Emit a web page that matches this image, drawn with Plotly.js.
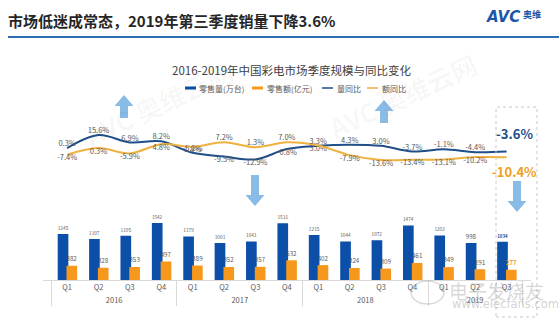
<!DOCTYPE html>
<html>
<head>
<meta charset="utf-8">
<script src="https://cdn.plot.ly/plotly-3.0.1.min.js"></script>
<style>html,body{margin:0;padding:0;background:#fff;}#chart{width:559px;height:323px;}</style>
</head>
<body>
<div id="chart"></div>
<script>
// ---- data ----
const years    = ['2016','2016','2016','2016','2017','2017','2017','2017','2018','2018','2018','2018','2019','2019','2019'];
const quarters = ['Q1','Q2','Q3','Q4','Q1','Q2','Q3','Q4','Q1','Q2','Q3','Q4','Q1','Q2','Q3'];
const volume   = [1245,1107,1195,1542,1179,1001,1041,1531,1215,1044,1072,1474,1202,998,1034];
const value    = [382,328,353,497,389,352,357,532,402,324,309,461,349,291,277];
const volYoY   = [0.3,15.6,6.9,8.2,-5.2,-9.5,-12.9,-0.8,3.0,4.3,3.0,-3.7,-1.1,-4.4,-3.6];
const valYoY   = [-7.4,0.3,-5.9,4.8,1.8,7.2,1.3,7.0,3.3,-7.9,-13.6,-13.4,-13.1,-10.2,-10.4];
const seriesNames = ['零售量(万台)','零售额(亿元)','量同比','额同比'];
const volLabelPos = ['top center','top center','top center','top center','top center','bottom center','bottom center','bottom center','bottom center','top center','top center','top center','top center','top center','top center'];
const valLabelPos = ['bottom center','bottom center','bottom center','bottom center','bottom center','top center','top center','top center','top center','bottom center','bottom center','bottom center','bottom center','bottom center','bottom center'];
const mainTitle = '市场低迷成常态，2019年第三季度销量下降3.6%';
const chartTitle = '2016-2019年中国彩电市场季度规模与同比变化';

// ---- styling ----
const W = 559, H = 323;
const px = x => x / W, py = y => 1 - y / H;
const FONT = 'Noto Sans CJK SC, Noto Sans, sans-serif';
const BAR_BLUE = '#0b4fa8', BAR_ORANGE = '#f5981c';
const LINE_BLUE = '#1f4e89', LINE_ORANGE = '#efb13f';
const TXT = '#595959';
const n = quarters.length;
const last = n - 1;
const xDom = [42.7 / W, 531 / W];
const xCenter = i => xDom[0] + (i + 0.5) / n * (xDom[1] - xDom[0]);
const xcat = [years, quarters];

const barText = (arr, bigColor, bigSize) => ({
  tt: arr.map((v, i) => i === last ? '<b>%{y}</b>' : '%{y}'),
  size: arr.map((v, i) => i === last ? bigSize : 8),
  color: arr.map((v, i) => i === last ? bigColor : TXT)
});
const bt1 = barText(volume, LINE_BLUE, 11);
const bt2 = barText(value, '#f0a020', 10);

const traces = [
  {type: 'bar', name: seriesNames[0], x: xcat, y: volume, xaxis: 'x', yaxis: 'y',
   marker: {color: BAR_BLUE}, width: 0.34, offset: -0.3,
   texttemplate: bt1.tt, textposition: 'outside', cliponaxis: false,
   textfont: {size: bt1.size, color: bt1.color, family: FONT}, showlegend: false, hoverinfo: 'y'},
  {type: 'bar', name: seriesNames[1], x: xcat, y: value, xaxis: 'x', yaxis: 'y',
   marker: {color: BAR_ORANGE}, width: 0.34, offset: -0.02,
   texttemplate: bt2.tt, textposition: 'outside', cliponaxis: false,
   textfont: {size: bt2.size, color: bt2.color, family: FONT}, showlegend: false, hoverinfo: 'y'},
  {type: 'scatter', mode: 'lines+text', name: seriesNames[2], x: xcat, y: volYoY, xaxis: 'x', yaxis: 'y2',
   line: {color: LINE_BLUE, width: 2, shape: 'spline', smoothing: 1},
   texttemplate: volYoY.map((v, i) => i === last ? '' : '%{y:.1f}%'), textposition: volLabelPos,
   textfont: {size: 7.5, color: TXT, family: FONT}, cliponaxis: false, showlegend: false},
  {type: 'scatter', mode: 'lines+text', name: seriesNames[3], x: xcat, y: valYoY, xaxis: 'x', yaxis: 'y2',
   line: {color: LINE_ORANGE, width: 2, shape: 'spline', smoothing: 1},
   texttemplate: valYoY.map((v, i) => i === last ? '' : '%{y:.1f}%'), textposition: valLabelPos,
   textfont: {size: 7.5, color: TXT, family: FONT}, cliponaxis: false, showlegend: false}
];

// arrows
const ARROW = '#88bbe6';
function arrowPath(cx, y0, y1, up) {
  const hw = 9.5, sw = 4, hh = 11 * (up ? 1 : -1);
  const tip = up ? y0 : y1, base = up ? y1 : y0;
  const pts = [[cx, tip], [cx + hw, tip + hh], [cx + sw, tip + hh], [cx + sw, base], [cx - sw, base], [cx - sw, tip + hh], [cx - hw, tip + hh]];
  return 'M' + pts.map(p => px(p[0]).toFixed(5) + ',' + py(p[1]).toFixed(5)).join(' L') + ' Z';
}
const LEG_Y = 88;
const shapes = [
  {type: 'line', xref: 'paper', yref: 'paper', x0: px(8), x1: 1, y0: py(37), y1: py(37), line: {color: '#2f6eb5', width: 2}},
  {type: 'path', xref: 'paper', yref: 'paper', path: arrowPath(124, 95, 118, true), fillcolor: ARROW, line: {width: 0}},
  {type: 'path', xref: 'paper', yref: 'paper', path: arrowPath(384, 100, 123, true), fillcolor: ARROW, line: {width: 0}},
  {type: 'path', xref: 'paper', yref: 'paper', path: arrowPath(255, 175, 206, false), fillcolor: ARROW, line: {width: 0}},
  {type: 'path', xref: 'paper', yref: 'paper', path: arrowPath(517, 181, 212, false), fillcolor: ARROW, line: {width: 0}},
  {type: 'rect', xref: 'paper', yref: 'paper', x0: px(496), x1: px(537), y0: py(317), y1: py(107), line: {color: '#c8c8c8', width: 1, dash: 'dot'}},
  // legend icons
  {type: 'line', xref: 'paper', yref: 'paper', x0: px(185), x1: px(196), y0: py(LEG_Y), y1: py(LEG_Y), line: {color: BAR_BLUE, width: 3}},
  {type: 'line', xref: 'paper', yref: 'paper', x0: px(252), x1: px(263), y0: py(LEG_Y), y1: py(LEG_Y), line: {color: BAR_ORANGE, width: 3}},
  {type: 'line', xref: 'paper', yref: 'paper', x0: px(322), x1: px(333), y0: py(LEG_Y), y1: py(LEG_Y), line: {color: LINE_BLUE, width: 1.5}},
  {type: 'line', xref: 'paper', yref: 'paper', x0: px(367), x1: px(378), y0: py(LEG_Y), y1: py(LEG_Y), line: {color: LINE_ORANGE, width: 1.5}},
  // elecfans logo circle (watermark)
  {type: 'circle', xref: 'paper', yref: 'paper', x0: px(411), x1: px(444), y0: py(304), y1: py(281), line: {color: 'rgba(150,150,150,0.35)', width: 1.5}}
];

const fmtPct = v => v.toFixed(1) + '%';
const legendX = [197, 265, 335, 380];
const ann = (o) => Object.assign({xref: 'paper', yref: 'paper', showarrow: false, xanchor: 'center', yanchor: 'middle'}, o);
const annotations = [
  ann({x: px(292), y: py(70), text: chartTitle, font: {size: 11.5, color: '#404040', family: FONT}}),
  // big last-point labels
  ann({yref: 'y2', x: xCenter(last), y: volYoY[last], yshift: 18, text: '<b>' + fmtPct(volYoY[last]) + '</b>',
       font: {size: 13, color: LINE_BLUE, family: FONT}}),
  ann({yref: 'y2', x: xCenter(last), y: valYoY[last], yshift: -14, text: '<b>' + fmtPct(valYoY[last]) + '</b>',
       font: {size: 13, color: '#f0a020', family: FONT}}),
  // logo
  ann({x: px(484), y: py(17), xanchor: 'left', text: '<b><i>AVC</i></b>',
       font: {size: 15, color: '#1a56a8', family: 'DejaVu Sans, sans-serif'}}),
  ann({x: px(521), y: py(15), xanchor: 'left', text: '<b>奥维</b>', font: {size: 9, color: '#1a56a8', family: FONT}}),
  // watermarks
  ann({x: px(158), y: py(103), text: '<b>AVC 奥维云网</b>', textangle: -25,
       font: {size: 26, color: 'rgba(0,0,0,0.035)', family: FONT}}),
  ann({x: px(402), y: py(95), text: '<b>AVC 奥维云网</b>', textangle: -25,
       font: {size: 26, color: 'rgba(0,0,0,0.035)', family: FONT}}),
  ann({x: px(496), y: py(290), text: '电子发烧友', font: {size: 19, color: 'rgba(140,140,140,0.35)', family: FONT}}),
  ann({x: px(505), y: py(304), text: 'www.elecfans.com', font: {size: 11.5, color: 'rgba(140,140,140,0.4)', family: 'DejaVu Sans, sans-serif'}})
];
seriesNames.forEach((nm, i) => annotations.push(ann({
  x: px(legendX[i]), y: py(LEG_Y), xanchor: 'left', text: nm, font: {size: 8, color: TXT, family: FONT}
})));

const layout = {
  width: W, height: H,
  margin: {l: 0, r: 0, t: 0, b: 0, pad: 0},
  paper_bgcolor: '#fff', plot_bgcolor: 'rgba(0,0,0,0)',
  font: {family: FONT, color: TXT},
  title: {text: '<b>' + mainTitle + '</b>', x: px(8), xanchor: 'left', xref: 'paper', y: py(22), yanchor: 'middle', yref: 'container',
          font: {size: 15, color: '#262626', family: FONT}},
  barmode: 'overlay',
  showlegend: false,
  xaxis: {type: 'multicategory', domain: xDom, anchor: 'y', showline: true, linecolor: '#d9d9d9', linewidth: 1,
          ticks: '', showgrid: false, zeroline: false, tickfont: {size: 7.5, color: TXT, family: FONT},
          showdividers: true, dividercolor: '#d9d9d9', dividerwidth: 1},
  yaxis: {domain: [py(280), py(199)], range: [0, 2190], visible: false, fixedrange: true},
  yaxis2: {domain: [py(175), py(120)], range: [-31.1, 33.1], anchor: 'x', visible: false},
  shapes: shapes,
  annotations: annotations
};

Plotly.newPlot('chart', traces, layout, {displayModeBar: false, staticPlot: true});
</script>
</body>
</html>
